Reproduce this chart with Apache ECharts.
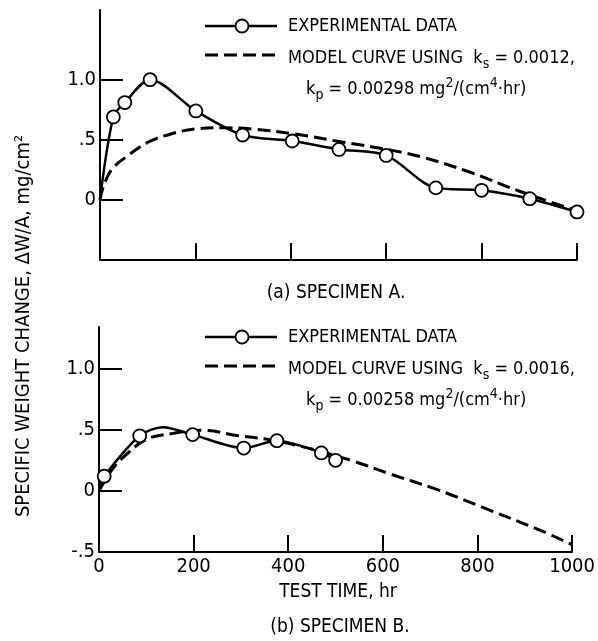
<!DOCTYPE html>
<html>
<head>
<meta charset="utf-8">
<script src="https://cdn.jsdelivr.net/npm/echarts@6/dist/echarts.min.js"></script>
<style>
  html, body { margin: 0; padding: 0; background: #fff; }
  #chart { width: 598px; height: 641px; }
</style>
</head>
<body>
<div id="chart"></div>
<script>
// Specimen A: measured weight change (hr, mg/cm^2)
const expA_t = [28, 52, 105, 201, 299, 403, 501, 600, 704, 800, 901, 1000];
const expA_v = [0.69, 0.81, 1.00, 0.74, 0.54, 0.49, 0.42, 0.37, 0.10, 0.08, 0.01, -0.10];
// curve-only points of the faired line through the specimen A data
const expA_trace = [[0, 0.0]];

// Specimen A: model curve (ks = 0.0012, kp = 0.00298)
const modelA_t = [0, 7, 24, 59, 101, 150, 199, 255, 318, 405, 510, 615, 681, 776, 881, 1000];
const modelA_v = [0, 0.11, 0.25, 0.37, 0.48, 0.55, 0.59, 0.60, 0.59, 0.55, 0.48, 0.41, 0.35, 0.23, 0.07, -0.09];

// Specimen B: measured weight change
const expB_t = [11, 86, 198, 306, 376, 470, 500];
const expB_v = [0.12, 0.45, 0.46, 0.35, 0.41, 0.31, 0.25];
const expB_trace = [[0, 0.03], [135, 0.52], [425, 0.37]];

// Specimen B: model curve (ks = 0.0016, kp = 0.00258)
const modelB_t = [0, 25, 50, 100, 156, 219, 296, 358, 420, 470, 540, 610, 715, 827, 925, 1000];
const modelB_v = [0, 0.16, 0.27, 0.42, 0.47, 0.495, 0.45, 0.42, 0.37, 0.32, 0.24, 0.145, 0.01, -0.16, -0.31, -0.44];

// axis ticks
const xTicks = [0, 200, 400, 600, 800, 1000];
const yTicksA = [0, 0.5, 1.0];
const yTicksB = [-0.5, 0, 0.5, 1.0];
const yTickText = { '-0.5': '-.5', '0': '0', '0.5': '.5', '1': '1.0' };

const FONT = '"DejaVu Sans Condensed", "Liberation Sans", sans-serif';
const INK = '#000';

function measured(ts, vs, trace) {
  const pts = ts.map((t, i) => ({ value: [t, vs[i]] }));
  trace.forEach(p => pts.push({ value: p, symbol: 'none' }));
  pts.sort((a, b) => a.value[0] - b.value[0]);
  return pts;
}
function curve(ts, vs) { return ts.map((t, i) => [t, vs[i]]); }

function xAxis(gridIndex, showLabels) {
  return {
    type: 'value', gridIndex, min: 0, max: 1000, interval: 200,
    axisLine: { onZero: false, lineStyle: { color: INK, width: 2 } },
    axisTick: { inside: true, length: 17, lineStyle: { color: INK, width: 2 }, customValues: xTicks.slice(1) },
    axisLabel: { show: showLabels, customValues: xTicks, color: INK, fontFamily: FONT, fontSize: 20, margin: 5,
      formatter: v => String(v) },
    splitLine: { show: false }
  };
}
function yAxis(gridIndex, max, labels) {
  return {
    type: 'value', gridIndex, min: -0.5, max, interval: 0.5,
    axisLine: { onZero: false, lineStyle: { color: INK, width: 2 } },
    axisTick: { inside: true, length: 23, lineStyle: { color: INK, width: 2 }, customValues: [0, 0.5, 1.0] },
    axisLabel: { customValues: labels, color: INK, fontFamily: FONT, fontSize: 20, margin: 4,
      formatter: v => yTickText[String(v)] },
    splitLine: { show: false }
  };
}

const expStyle = {
  type: 'line', smooth: 0.3, symbol: 'circle', symbolSize: 13,
  lineStyle: { color: INK, width: 2.5 },
  itemStyle: { color: '#fff', borderColor: INK, borderWidth: 1.8 },
  z: 3
};
const modelStyle = {
  type: 'line', smooth: 0.4, symbol: 'none',
  lineStyle: { color: INK, width: 3, type: [13, 6] },
  z: 2
};

// legend block drawn with text and line primitives
function legend(top, ks, kp) {
  const rich = {
    m: { fontFamily: FONT, fontSize: 18, color: INK, lineHeight: 26, verticalAlign: 'middle' },
    sub: { fontFamily: FONT, fontSize: 14, color: INK, lineHeight: 16, verticalAlign: 'bottom' },
    sup: { fontFamily: FONT, fontSize: 14, color: INK, lineHeight: 16, verticalAlign: 'top' }
  };
  return [
    { type: 'line', shape: { x1: 205, y1: top, x2: 277, y2: top }, style: { stroke: INK, lineWidth: 2.5 } },
    { type: 'circle', shape: { cx: 242, cy: top, r: 6.5 }, style: { fill: '#fff', stroke: INK, lineWidth: 1.8 } },
    { type: 'text', x: 288, y: top, style: { text: '{m|EXPERIMENTAL DATA}', rich, verticalAlign: 'middle' } },
    { type: 'line', shape: { x1: 205, y1: top + 29, x2: 277, y2: top + 29 }, style: { stroke: INK, lineWidth: 3, lineDash: [13, 6] } },
    { type: 'text', x: 288, y: top + 32, style: { text: '{m|MODEL CURVE USING  k}{sub|s}{m| = ' + ks + ',}', rich, verticalAlign: 'middle' } },
    { type: 'text', x: 306, y: top + 63, style: { text: '{m|k}{sub|p}{m| = ' + kp + ' mg}{sup|2}{m|/(cm}{sup|4}{m|\u00b7hr)}', rich, verticalAlign: 'middle' } }
  ];
}

function caption(x, y, text, size) {
  return { type: 'text', x, y, style: { text, fontFamily: FONT, fontSize: size, fill: INK, align: 'center', verticalAlign: 'middle' } };
}

const chart = echarts.init(document.getElementById('chart'), null, { renderer: 'canvas' });
chart.setOption({
  backgroundColor: '#fff',
  animation: false,
  grid: [
    { left: 100, top: 10, width: 477, height: 250 },
    { left: 99, top: 327, width: 477, height: 225 }
  ],
  xAxis: [xAxis(0, false), xAxis(1, true)],
  yAxis: [yAxis(0, 1.58, yTicksA), yAxis(1, 1.34, yTicksB)],
  series: [
    Object.assign({ name: 'Experimental data A', xAxisIndex: 0, yAxisIndex: 0, data: measured(expA_t, expA_v, expA_trace) }, expStyle),
    Object.assign({ name: 'Model curve A', xAxisIndex: 0, yAxisIndex: 0, data: curve(modelA_t, modelA_v) }, modelStyle),
    Object.assign({ name: 'Experimental data B', xAxisIndex: 1, yAxisIndex: 1, data: measured(expB_t, expB_v, expB_trace) }, expStyle),
    Object.assign({ name: 'Model curve B', xAxisIndex: 1, yAxisIndex: 1, data: curve(modelB_t, modelB_v) }, modelStyle)
  ],
  graphic: [
    ...legend(26, '0.0012', '0.00298'),
    ...legend(337, '0.0016', '0.00258'),
    caption(336, 293, '(a) SPECIMEN A.', 19),
    caption(338, 592, 'TEST TIME, hr', 19),
    caption(340, 627, '(b) SPECIMEN B.', 19),
    { type: 'text', x: 24, y: 326, rotation: Math.PI / 2,
      style: { text: 'SPECIFIC WEIGHT CHANGE, \u0394W/A, mg/cm\u00b2', fontFamily: FONT, fontSize: 20, fill: INK, align: 'center', verticalAlign: 'middle' } }
  ]
});
</script>
</body>
</html>
